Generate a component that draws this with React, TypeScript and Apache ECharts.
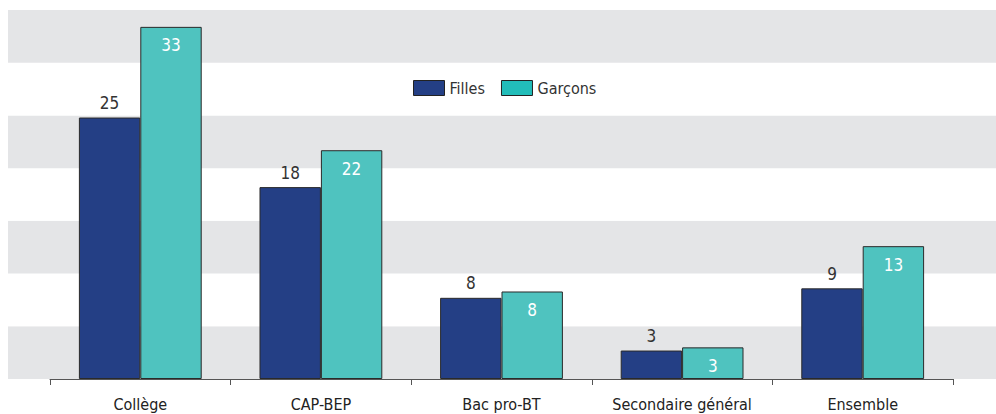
import React, { useEffect, useRef } from "react";
import * as echarts from "echarts";

const categories = ["Collège", "CAP-BEP", "Bac pro-BT", "Secondaire général", "Ensemble"];
const filles = [24.8, 18.2, 7.7, 2.7, 8.6];
const garcons = [33.4, 21.7, 8.3, 3.0, 12.6];
const seriesNames = ["Filles", "Garçons"];
const yMin = 0;
const yMax = 35;
const yInterval = 5;

const FONT = "'DejaVu Sans Condensed', 'Roboto', sans-serif";

export default function App() {
  const ref = useRef<HTMLDivElement>(null);
  useEffect(() => {
    if (!ref.current) return;
    const chart = echarts.init(ref.current, undefined, { renderer: "svg" });
    chart.setOption({
      animation: false,
      textStyle: { fontFamily: FONT },
      legend: {
        data: [
          { name: seriesNames[0], itemStyle: { color: "#243f85", borderColor: "#222", borderWidth: 1 } },
          { name: seriesNames[1], itemStyle: { color: "#22bdb9", borderColor: "#222", borderWidth: 1 } },
        ],
        left: 408,
        top: 75,
        itemWidth: 31,
        itemHeight: 15,
        itemGap: 16,
        icon: "rect",
        textStyle: { fontFamily: FONT, fontSize: 16, color: "#333" },
      },
      grid: [
        { left: 8, right: 0, top: 10, bottom: 35 },
        { left: 50, right: 43, top: 10, bottom: 35 },
      ],
      xAxis: [
        { type: "category", gridIndex: 0, data: categories, show: false },
        {
          type: "category",
          gridIndex: 1,
          data: categories,
          axisLine: { lineStyle: { color: "#555", width: 1 } },
          axisTick: { show: true, length: 6, interval: 0, lineStyle: { color: "#555" } },
          axisLabel: { interval: 0, fontFamily: FONT, fontSize: 16, color: "#222", margin: 17 },
        },
      ],
      yAxis: [
        {
          type: "value",
          gridIndex: 0,
          min: yMin,
          max: yMax,
          interval: yInterval,
          axisLabel: { show: false },
          axisLine: { show: false },
          axisTick: { show: false },
          splitLine: { show: false },
          splitArea: { show: true, areaStyle: { color: ["#e4e5e7", "#ffffff"] } },
        },
        {
          type: "value",
          gridIndex: 1,
          min: yMin,
          max: yMax,
          interval: yInterval,
          show: false,
          splitLine: { show: false },
        },
      ],
      series: [
        {
          name: seriesNames[0],
          type: "bar",
          xAxisIndex: 1,
          yAxisIndex: 1,
          data: filles,
          barWidth: "34%",
          barGap: "0%",
          itemStyle: { color: "#243f85", borderColor: "#2a2a2a", borderWidth: 1 },
          label: {
            show: true,
            position: "top",
            distance: 6,
            formatter: (p: any) => String(Math.round(p.value)),
            fontFamily: FONT,
            fontSize: 17,
            color: "#333",
          },
        },
        {
          name: seriesNames[1],
          type: "bar",
          xAxisIndex: 1,
          yAxisIndex: 1,
          data: garcons,
          barWidth: "34%",
          barGap: "0%",
          itemStyle: { color: "#4fc3bf", borderColor: "#2a2a2a", borderWidth: 1 },
          label: {
            show: true,
            position: "insideTop",
            distance: 10,
            formatter: (p: any) => String(Math.round(p.value)),
            fontFamily: FONT,
            fontSize: 17,
            color: "#ffffff",
          },
        },
      ],
    });
    return () => chart.dispose();
  }, []);
  return <div ref={ref} style={{ width: 996, height: 414, position: "absolute", left: 0, top: 0 }} />;
}
